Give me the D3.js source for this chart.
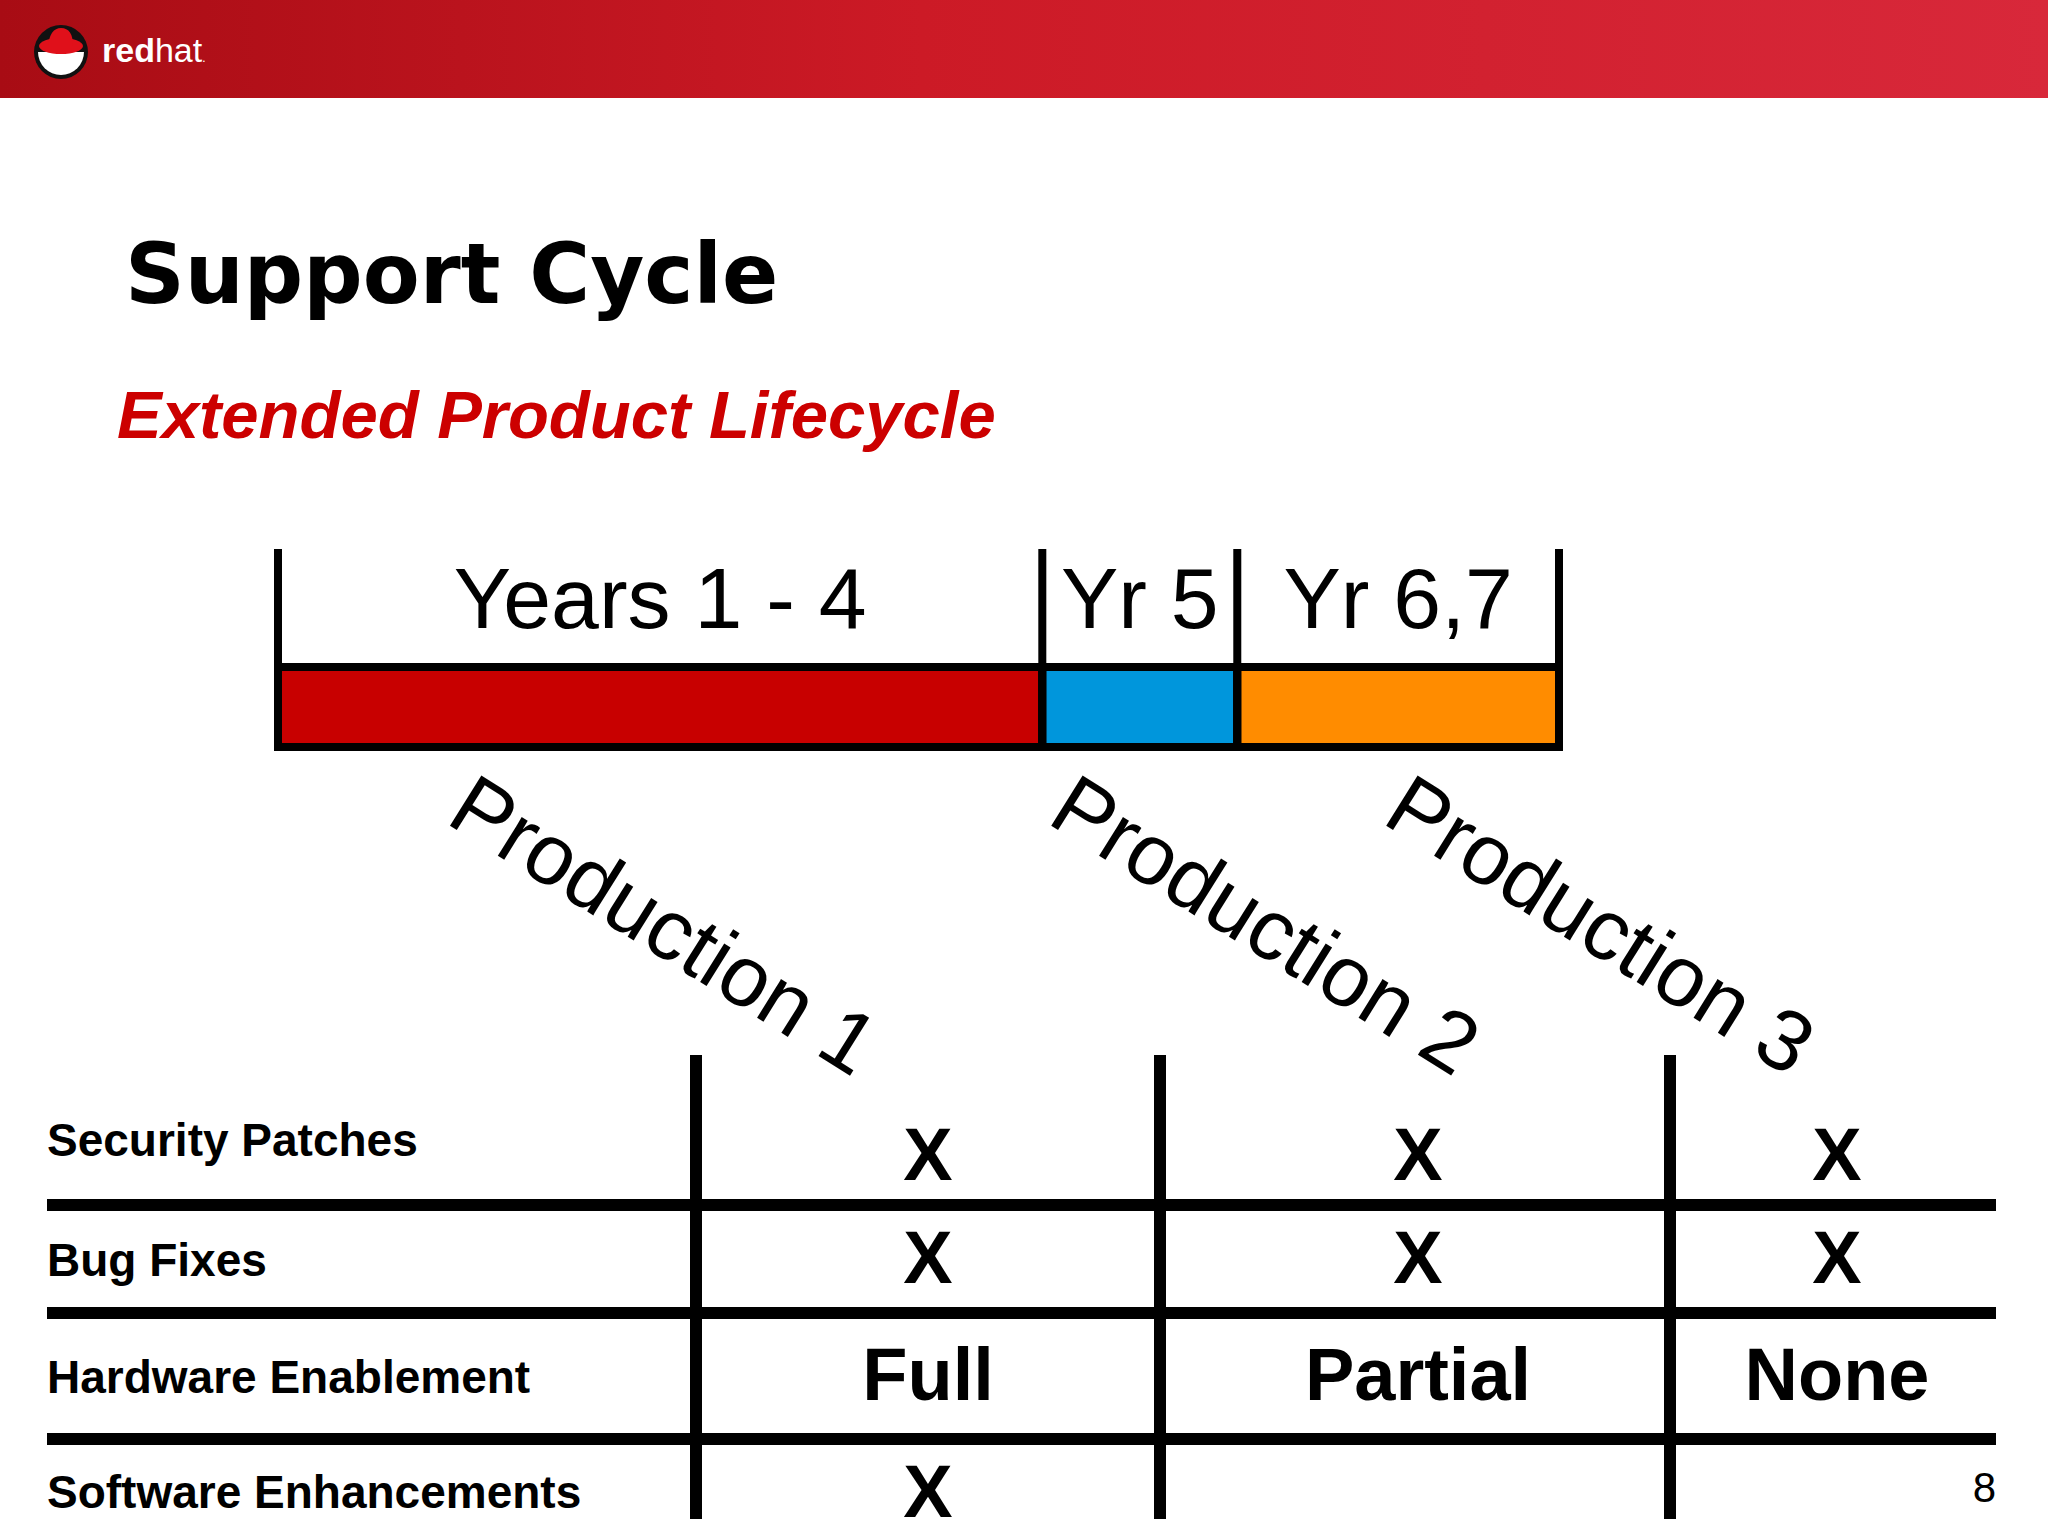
<!DOCTYPE html>
<html><head><meta charset="utf-8">
<script src="https://cdn.jsdelivr.net/npm/d3@7"></script>
<style>body{margin:0;background:#fff}svg{display:block}</style>
</head><body>
<div id="chart"></div>
<script>
// timeline segments
var segLabels = ["Years 1 - 4", "Yr 5", "Yr 6,7"];
var segUnits = [3.92, 1, 1.65];
var segColors = ["#c80000", "#0096dc", "#ff8c00"];
var prodLabels = ["Production 1", "Production 2", "Production 3"];

// support table
var rowLabels = ["Security Patches", "Bug Fixes", "Hardware Enablement", "Software Enhancements"];
var colKeys = ["p1", "p2", "p3"];
var cellValues = [
  ["X", "X", "X"],
  ["X", "X", "X"],
  ["Full", "Partial", "None"],
  ["X", "", ""]
];

var W = 2048, H = 1535;
var svg = d3.select("#chart").append("svg").attr("width", W).attr("height", H);

// header band
var defs = svg.append("defs");
var g = defs.append("linearGradient").attr("id", "hdr");
g.append("stop").attr("offset", "0%").attr("stop-color", "#a80c14");
g.append("stop").attr("offset", "45%").attr("stop-color", "#cc1a26");
g.append("stop").attr("offset", "100%").attr("stop-color", "#d8283a");
svg.append("rect").attr("width", W).attr("height", 98).attr("fill", "url(#hdr)");
svg.append("circle").attr("cx", 61).attr("cy", 52).attr("r", 27).attr("fill", "#111");
svg.append("path").attr("d", "M38,52 a23,23 0 0 0 46,0 z").attr("fill", "#fff");
svg.append("ellipse").attr("cx", 61).attr("cy", 46).attr("rx", 22).attr("ry", 8).attr("fill", "#e0101a");
svg.append("path").attr("d", "M48,46 q2,-18 13,-18 q12,0 12,18 z").attr("fill", "#e0101a");
svg.append("text").attr("x", 102).attr("y", 62).attr("fill", "#fff")
  .style("font-family", "Liberation Sans").style("font-size", "34px")
  .html('<tspan font-weight="bold">red</tspan>hat<tspan font-size="12">.</tspan>');

// titles
svg.append("text").attr("x", 125).attr("y", 303).text("Support Cycle")
  .style("font-family", "DejaVu Sans").style("font-weight", "bold").style("font-size", "83px");
svg.append("text").attr("x", 117).attr("y", 438).text("Extended Product Lifecycle")
  .style("font-family", "Liberation Sans").style("font-weight", "bold").style("font-style", "italic")
  .style("font-size", "67px").attr("fill", "#cc0000");

// timeline
var cum = [0];
segUnits.forEach(function(u, i) { cum.push(cum[i] + u); });
var x = d3.scaleLinear().domain([0, cum[cum.length - 1]]).range([278, 1559]);
var barTop = 667, barBot = 747, tickTop = 549;

svg.selectAll(".seg").data(segUnits).enter().append("rect")
  .attr("x", function(d, i) { return x(cum[i]); })
  .attr("y", barTop)
  .attr("width", function(d, i) { return x(cum[i + 1]) - x(cum[i]); })
  .attr("height", barBot - barTop)
  .attr("fill", function(d, i) { return segColors[i]; })
  .attr("stroke", "#000").attr("stroke-width", 8);
svg.selectAll(".tick").data(cum).enter().append("line")
  .attr("x1", function(d) { return x(d); }).attr("x2", function(d) { return x(d); })
  .attr("y1", tickTop).attr("y2", barBot + 4)
  .attr("stroke", "#000").attr("stroke-width", 8);
svg.selectAll(".seglab").data(segLabels).enter().append("text")
  .attr("x", function(d, i) { return (x(cum[i]) + x(cum[i + 1])) / 2; })
  .attr("y", 628).attr("text-anchor", "middle").text(function(d) { return d; })
  .style("font-family", "Liberation Sans").style("font-size", "86px");

// production labels, rotated under segment starts
var prodX = [x(cum[0]) + 166, x(cum[1]) + 3, x(cum[2]) + 143];
svg.selectAll(".prod").data(prodLabels).enter().append("text")
  .attr("transform", function(d, i) { return "translate(" + prodX[i] + ",822) rotate(32)"; })
  .text(function(d) { return d; })
  .style("font-family", "Liberation Sans").style("font-size", "86px");

// table
var colCenter = d3.scaleOrdinal().domain(colKeys).range([928, 1418, 1837]);
var colLines = [696, 1160, 1670];
var rowLines = [1205, 1313, 1439];
var rowBase = [1156, 1276, 1393, 1508];
var cellBase = [1180, 1283, 1400, 1517];

svg.selectAll(".hl").data(rowLines).enter().append("line")
  .attr("x1", 47).attr("x2", 1996).attr("y1", function(d) { return d; }).attr("y2", function(d) { return d; })
  .attr("stroke", "#000").attr("stroke-width", 12);
svg.selectAll(".vl").data(colLines).enter().append("line")
  .attr("x1", function(d) { return d; }).attr("x2", function(d) { return d; })
  .attr("y1", 1055).attr("y2", 1519).attr("stroke", "#000").attr("stroke-width", 12);

svg.selectAll(".rl").data(rowLabels).enter().append("text")
  .attr("x", 47).attr("y", function(d, i) { return rowBase[i]; }).text(function(d) { return d; })
  .style("font-family", "Liberation Sans").style("font-weight", "bold").style("font-size", "46px");

cellValues.forEach(function(row, r) {
  svg.selectAll(".c" + r).data(row).enter().append("text")
    .attr("x", function(d, i) { return colCenter(colKeys[i]); })
    .attr("y", cellBase[r]).attr("text-anchor", "middle").text(function(d) { return d; })
    .style("font-family", "Liberation Sans").style("font-weight", "bold").style("font-size", "74px");
});

svg.append("text").attr("x", 1996).attr("y", 1502).attr("text-anchor", "end").text("8")
  .style("font-family", "Liberation Sans").style("font-size", "42px");
</script>
</body></html>
